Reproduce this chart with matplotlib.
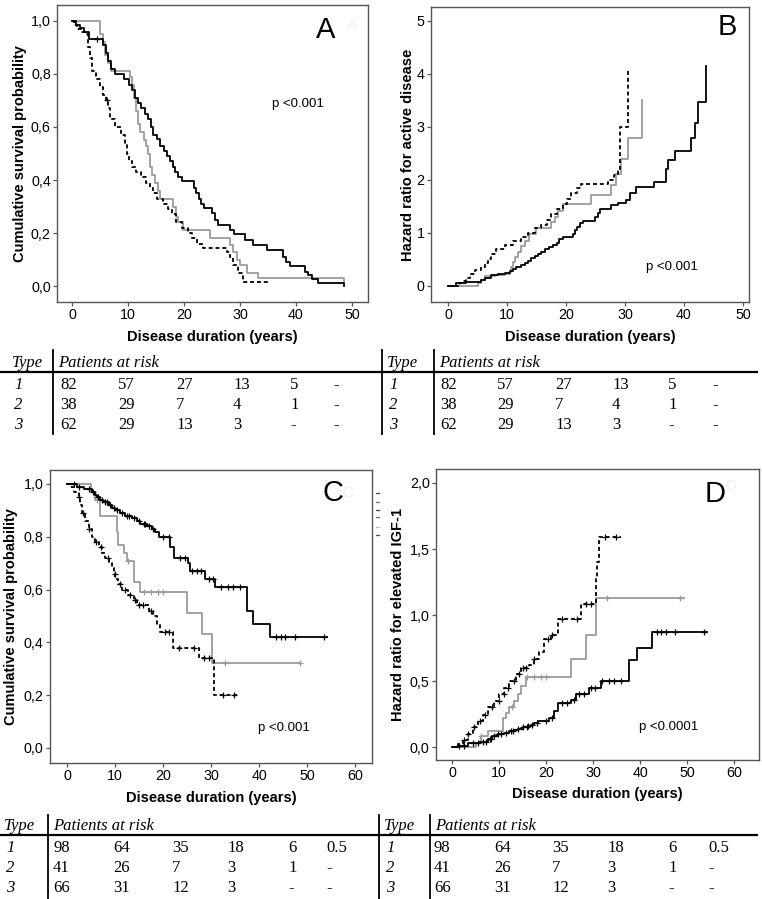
import matplotlib
matplotlib.use('Agg')
import matplotlib.pyplot as plt
import numpy as np
from matplotlib.lines import Line2D

# ---------------- data ----------------
years_A = [0, 10, 20, 30, 40, 50]
years_C = [0, 10, 20, 30, 40, 50, 60]
surv_ticks = [0.0, 0.2, 0.4, 0.6, 0.8, 1.0]
surv_labels = ['0,0', '0,2', '0,4', '0,6', '0,8', '1,0']
hazB_ticks = [0, 1, 2, 3, 4, 5]
hazB_labels = ['0', '1', '2', '3', '4', '5']
hazD_ticks = [0.0, 0.5, 1.0, 1.5, 2.0]
hazD_labels = ['0,0', '0,5', '1,0', '1,5', '2,0']

# Panel A: cumulative survival (time, probability)
A_type1 = [(0, 1.0), (0.8, 0.985), (1.5, 0.975), (2.2, 0.96), (3.0, 0.93), (5.6, 0.91), (6.0, 0.88),
           (6.4, 0.85), (6.9, 0.82), (7.7, 0.80), (9.3, 0.78), (10.2, 0.76), (10.7, 0.74), (11.2, 0.71),
           (11.7, 0.69), (12.3, 0.67), (13.0, 0.65), (13.6, 0.63), (14.1, 0.60), (14.5, 0.57),
           (15.2, 0.555), (15.8, 0.53), (16.4, 0.51), (17.0, 0.49), (17.5, 0.47), (18.0, 0.45),
           (18.4, 0.43), (19.0, 0.41), (19.6, 0.395), (21.7, 0.37), (22.1, 0.35), (22.6, 0.33),
           (23.1, 0.31), (23.5, 0.295), (25.0, 0.275), (25.6, 0.25), (26.1, 0.23), (28.2, 0.21),
           (29.0, 0.195), (30.9, 0.175), (32.4, 0.155), (34.8, 0.135), (37.7, 0.11), (38.3, 0.09),
           (38.9, 0.075), (41.6, 0.055), (42.2, 0.04), (42.8, 0.025), (44.0, 0.01), (48.5, 0.0)]
A_type2 = [(0, 1.0), (5.0, 0.95), (5.5, 0.92), (5.9, 0.87), (6.4, 0.84), (7.0, 0.81), (10.4, 0.79),
           (10.8, 0.76), (11.1, 0.71), (11.4, 0.66), (11.7, 0.61), (12.1, 0.58), (12.9, 0.55),
           (13.3, 0.53), (13.6, 0.50), (13.9, 0.45), (14.3, 0.42), (14.8, 0.39), (15.3, 0.36),
           (15.7, 0.33), (18.1, 0.30), (18.6, 0.26), (19.0, 0.24), (19.8, 0.21), (24.6, 0.18),
           (28.2, 0.155), (28.8, 0.13), (29.5, 0.10), (30.0, 0.08), (31.2, 0.05), (33.2, 0.03),
           (48.5, 0.01)]
A_type3 = [(0, 1.0), (0.4, 0.985), (0.9, 0.97), (1.6, 0.96), (2.5, 0.95), (2.9, 0.90), (3.2, 0.86),
           (3.5, 0.81), (4.3, 0.78), (5.0, 0.75), (5.6, 0.72), (6.1, 0.70), (6.5, 0.67), (6.8, 0.63),
           (7.6, 0.60), (8.8, 0.57), (9.4, 0.54), (9.8, 0.50), (10.1, 0.47), (10.7, 0.45), (11.5, 0.43),
           (12.4, 0.41), (13.2, 0.39), (13.9, 0.37), (14.5, 0.35), (15.1, 0.33), (16.3, 0.31),
           (17.1, 0.29), (17.8, 0.27), (18.6, 0.24), (19.6, 0.22), (20.7, 0.20), (21.4, 0.18),
           (22.3, 0.16), (23.4, 0.145), (27.6, 0.13), (28.2, 0.11), (28.8, 0.08), (29.7, 0.05),
           (30.5, 0.015), (35.1, 0.015)]
A_censor1 = [4.5]
A_censor3 = [6.3]

# Panel B: hazard ratio for active disease
B_type1 = [(0, 0), (1.4, 0.05), (3.1, 0.08), (5.6, 0.12), (6.2, 0.16), (7.3, 0.20), (8.5, 0.22),
           (9.6, 0.25), (10.5, 0.28), (11.0, 0.32), (11.6, 0.36), (12.4, 0.40), (13.0, 0.44),
           (13.6, 0.48), (14.1, 0.52), (14.7, 0.56), (15.3, 0.60), (15.8, 0.65), (16.4, 0.70),
           (17.2, 0.74), (17.8, 0.78), (18.4, 0.82), (18.9, 0.88), (19.5, 0.93), (21.2, 0.99),
           (21.5, 1.05), (21.8, 1.12), (22.3, 1.18), (22.9, 1.23), (25.0, 1.30), (25.4, 1.38),
           (25.7, 1.45), (27.7, 1.52), (28.8, 1.57), (30.2, 1.62), (30.8, 1.75), (31.9, 1.86),
           (35.0, 1.97), (37.0, 2.20), (37.3, 2.37), (38.4, 2.55), (41.2, 2.80), (41.8, 3.07),
           (42.4, 3.47), (43.8, 4.15)]
B_type2 = [(0, 0), (5.1, 0.05), (5.6, 0.12), (6.2, 0.18), (7.9, 0.20), (9.6, 0.22), (10.5, 0.27),
           (10.7, 0.35), (11.0, 0.45), (11.3, 0.55), (11.9, 0.65), (12.4, 0.75), (13.0, 0.85),
           (13.8, 0.98), (15.0, 1.10), (17.5, 1.20), (18.2, 1.30), (18.6, 1.42), (19.5, 1.55),
           (24.3, 1.72), (27.7, 1.90), (28.5, 2.12), (29.4, 2.40), (30.5, 2.80), (32.8, 3.50)]
B_type3 = [(0, 0), (2.0, 0.05), (2.5, 0.10), (3.1, 0.15), (3.7, 0.22), (4.5, 0.30), (5.6, 0.35),
           (6.2, 0.43), (6.8, 0.50), (7.3, 0.60), (8.2, 0.70), (9.6, 0.78), (11.0, 0.85), (12.4, 0.93),
           (13.6, 1.00), (14.7, 1.10), (15.8, 1.15), (16.7, 1.25), (17.5, 1.35), (18.4, 1.45),
           (19.5, 1.55), (20.1, 1.65), (20.9, 1.75), (21.8, 1.85), (22.6, 1.93), (27.1, 2.00),
           (28.2, 2.10), (28.8, 2.18), (29.1, 3.00), (30.5, 4.10)]

# Panel C: cumulative survival (elevated IGF-1)
C_type1 = [(0, 1.0), (2.1, 0.99), (3.5, 0.98), (5.2, 0.97), (5.9, 0.96), (6.2, 0.95), (6.9, 0.94),
           (7.6, 0.93), (8.7, 0.92), (9.4, 0.91), (10.1, 0.90), (11.1, 0.89), (12.1, 0.88), (13.5, 0.87),
           (14.6, 0.86), (15.3, 0.85), (16.6, 0.84), (17.7, 0.83), (18.4, 0.82), (19.1, 0.80),
           (21.5, 0.76), (22.2, 0.72), (25.3, 0.70), (25.7, 0.67), (28.8, 0.64), (30.9, 0.61),
           (37.4, 0.52), (38.8, 0.47), (42.3, 0.42), (54.1, 0.42)]
C_type2 = [(0, 1.0), (4.9, 0.97), (5.8, 0.94), (6.9, 0.88), (10.4, 0.82), (10.7, 0.77), (11.8, 0.74),
           (12.5, 0.71), (13.9, 0.63), (15.3, 0.59), (25.0, 0.51), (28.1, 0.43), (30.2, 0.32),
           (48.5, 0.32)]
C_type3 = [(0, 1.0), (0.7, 0.99), (1.4, 0.97), (2.4, 0.95), (2.8, 0.92), (3.1, 0.89), (3.8, 0.86),
           (4.5, 0.83), (5.2, 0.80), (5.9, 0.78), (6.6, 0.76), (7.3, 0.74), (8.0, 0.72), (8.7, 0.70),
           (9.4, 0.68), (9.7, 0.66), (10.1, 0.64), (10.7, 0.62), (11.4, 0.60), (12.8, 0.58),
           (13.9, 0.56), (14.6, 0.54), (17.0, 0.52), (18.0, 0.50), (18.7, 0.47), (19.4, 0.44),
           (22.0, 0.38), (27.6, 0.34), (30.7, 0.20), (35.4, 0.20)]
censor_type1 = [1.5, 2.5, 4.5, 5.5, 6.5, 7.2, 8.0, 8.3, 9.0, 9.8, 10.5, 11.5, 12.5, 13.0, 14.0, 15.0,
                16.0, 16.2, 17.0, 18.0, 20.0, 21.3, 23.5, 24.5, 26.0, 27.0, 28.0, 29.5, 30.5, 32.0,
                33.5, 34.5, 36.0, 43.5, 44.5, 45.5, 47.5, 53.5]
censor_type2 = [6.2, 12.8, 16.0, 17.5, 19.0, 20.0, 33.0, 48.5]
censor_type3 = [2.5, 3.3, 4.6, 6.0, 7.0, 8.5, 10.0, 11.0, 12.0, 13.2, 14.2, 15.0, 15.8, 17.5, 20.5,
                21.2, 23.3, 26.5, 28.5, 29.5, 32.5, 34.8]

# Panel D: hazard ratio for elevated IGF-1
D_type1 = [(0, 0), (1.2, 0.01), (3.3, 0.03), (5.8, 0.04), (7.6, 0.06), (8.6, 0.08), (9.7, 0.10),
           (11.1, 0.11), (12.2, 0.12), (13.2, 0.13), (14.0, 0.14), (15.0, 0.15), (16.1, 0.16),
           (16.8, 0.17), (17.5, 0.18), (18.2, 0.20), (20.7, 0.22), (21.7, 0.27), (22.5, 0.33),
           (25.3, 0.36), (26.3, 0.40), (29.2, 0.45), (31.7, 0.50), (37.7, 0.66), (39.4, 0.75),
           (42.6, 0.87), (54.3, 0.87)]
D_type2 = [(0, 0), (5.1, 0.03), (6.2, 0.08), (7.6, 0.12), (10.8, 0.22), (11.5, 0.26), (12.2, 0.30),
           (13.2, 0.35), (14.0, 0.40), (14.7, 0.46), (15.7, 0.53), (25.3, 0.67), (28.5, 0.85),
           (30.6, 1.13), (49.4, 1.13)]
D_type3 = [(0, 0), (1.2, 0.02), (2.3, 0.05), (3.3, 0.10), (4.4, 0.15), (5.5, 0.20), (6.5, 0.24),
           (7.6, 0.30), (9.0, 0.35), (10.1, 0.40), (11.1, 0.45), (12.2, 0.50), (13.6, 0.55),
           (14.7, 0.60), (16.4, 0.62), (17.5, 0.67), (18.6, 0.72), (19.6, 0.82), (21.0, 0.85),
           (22.5, 0.97), (27.4, 1.08), (30.6, 1.28), (30.9, 1.40), (31.3, 1.59), (35.9, 1.59)]

# Patients at risk tables
risk_types = ['1', '2', '3']
risk_top = [['82', '57', '27', '13', '5', '-'],
            ['38', '29', '7', '4', '1', '-'],
            ['62', '29', '13', '3', '-', '-']]
risk_bottom = [['98', '64', '35', '18', '6', '0.5'],
               ['41', '26', '7', '3', '1', '-'],
               ['66', '31', '12', '3', '-', '-']]

# ---------------- figure ----------------
W, H = 762, 899
fig = plt.figure(figsize=(W / 100, H / 100), dpi=100)
SANS = ['Liberation Sans', 'DejaVu Sans']
SERIF = ['Liberation Serif', 'DejaVu Serif']
GRAY = '#9b9b9b'
SPINE = '#555555'


def px_axes(l, t, r, b):
    return fig.add_axes([l / W, 1 - b / H, (r - l) / W, (b - t) / H])


def ftext(x, y, s, **kw):
    fig.text(x / W, 1 - y / H, s, **kw)


def fline(x0, y0, x1, y1, lw=1.0, color='black'):
    fig.add_artist(Line2D([x0 / W, x1 / W], [1 - y0 / H, 1 - y1 / H], color=color, lw=lw,
                          transform=fig.transFigure))


def step_value(series, t):
    ts = [p[0] for p in series]
    vs = [p[1] for p in series]
    i = np.searchsorted(ts, t, side='right') - 1
    return vs[max(i, 0)]


def draw_series(ax, series, style, censor=None):
    t = [p[0] for p in series]
    v = [p[1] for p in series]
    if style == 'black':
        kw = dict(color='black', lw=1.3)
    elif style == 'gray':
        kw = dict(color=GRAY, lw=1.3)
    else:
        kw = dict(color='black', lw=1.3, linestyle=(0, (2.2, 1.6)))
    ax.step(t, v, where='post', **kw)
    if censor:
        cy = [step_value(series, c) for c in censor]
        ax.plot(censor, cy, linestyle='none', marker='+', markersize=5, mew=0.9,
                color=kw['color'])


def style_axes(ax, xlim, ylim, xticks, yticks, ylabels, ylabel, ylab_x, letter, letter_xy):
    ax.set_xlim(*xlim)
    ax.set_ylim(*ylim)
    ax.set_xticks(xticks)
    ax.set_xticklabels([str(x) for x in xticks])
    ax.set_yticks(yticks)
    ax.set_yticklabels(ylabels)
    for s in ax.spines.values():
        s.set_color(SPINE)
        s.set_linewidth(1.0)
    ax.tick_params(direction='out', length=3, width=0.9, color=SPINE, labelsize=10.3, pad=1.5)
    for lab in ax.get_xticklabels() + ax.get_yticklabels():
        lab.set_family(SANS)
    ax.set_ylabel(ylabel, fontsize=10.5, fontweight='bold', family=SANS)
    ax.yaxis.set_label_coords(ylab_x, 0.5)
    ax.yaxis.label.set_va('center')
    ax.set_xlabel('Disease duration (years)', fontsize=10.5, fontweight='bold', family=SANS)
    ax.xaxis.set_label_coords(0.5, -0.118)
    ax.xaxis.label.set_va('center')
    ax.text(letter_xy[0], letter_xy[1], letter, transform=ax.transAxes, fontsize=21,
            family=SANS, ha='center', va='center')


# Panel A
axA = px_axes(57, 5, 368, 302)
draw_series(axA, A_type2, 'gray')
draw_series(axA, A_type3, 'dashed', A_censor3)
draw_series(axA, A_type1, 'black', A_censor1)
style_axes(axA, (-2.68, 52.86), (-0.06, 1.06), years_A, surv_ticks, surv_labels,
           'Cumulative survival probability', -0.119, 'A', (0.865, 0.916))
axA.text(35.7, 0.687, 'p <0.001', fontsize=9.5, family=SANS, va='center')
axA.text(0.95, 0.93, 'A', transform=axA.transAxes, fontsize=11, color='#f0f0f0',
         family=SANS, ha='center', va='center')

# Panel B
axB = px_axes(431, 7, 749, 302)
draw_series(axB, B_type2, 'gray')
draw_series(axB, B_type3, 'dashed')
draw_series(axB, B_type1, 'black')
style_axes(axB, (-2.88, 51.02), (-0.302, 5.264), years_A, hazB_ticks, hazB_labels,
           'Hazard ratio for active disease', -0.072, 'B', (0.931, 0.932))
axB.text(33.6, 0.35, 'p <0.001', fontsize=9.5, family=SANS, va='center')

# Panel C
axC = px_axes(50, 470, 372, 763)
draw_series(axC, C_type2, 'gray', censor_type2)
draw_series(axC, C_type3, 'dashed', censor_type3)
draw_series(axC, C_type1, 'black', censor_type1)
style_axes(axC, (-3.54, 63.54), (-0.057, 1.053), years_C, surv_ticks, surv_labels,
           'Cumulative survival probability', -0.121, 'C', (0.879, 0.921))
axC.text(39.8, 0.076, 'p <0.001', fontsize=9.5, family=SANS, va='center')
axC.text(0.925, 0.92, 'C', transform=axC.transAxes, fontsize=11, color='#f0f0f0',
         family=SANS, ha='center', va='center')

# Panel D
axD = px_axes(436, 469, 759, 760)
draw_series(axD, D_type2, 'gray', censor_type2)
draw_series(axD, D_type3, 'dashed', censor_type3)
draw_series(axD, D_type1, 'black', censor_type1)
style_axes(axD, (-3.40, 65.3), (-0.098, 2.106), years_C, hazD_ticks, hazD_labels,
           'Hazard ratio for elevated IGF-1', -0.118, 'D', (0.864, 0.914))
axD.text(39.8, 0.15, 'p <0.0001', fontsize=9.5, family=SANS, va='center')
axD.text(0.915, 0.94, 'D', transform=axD.transAxes, fontsize=11, color='#f0f0f0',
         family=SANS, ha='center', va='center')

# small legend remnants right of panel C
for yy, cc in zip([493, 502, 510, 517, 527, 535],
                  ['#444444', '#777777', '#444444', '#666666', '#bbbbbb', '#555555']):
    fline(376, yy, 379, yy, lw=0.9, color=cc)


# ---------------- tables ----------------
def draw_table(rows, y_head, y_rows, x_type, x_vline, x_vals, x_border=None, top=None,
               bottom=None):
    fs = 12
    ftext(x_type, y_head, 'Type', fontsize=fs, family=SERIF, style='italic', va='center')
    ftext(x_vline + 5, y_head, 'Patients at risk', fontsize=fs, family=SERIF, style='italic',
          va='center')
    fline(x_vline, top, x_vline, bottom, lw=1.3)
    if x_border is not None:
        fline(x_border, top, x_border, bottom, lw=1.3)
    for r, lab in enumerate(risk_types):
        ftext(x_type + 2, y_rows[r], lab, fontsize=fs, family=SERIF, style='italic', va='center')
        for c, val in enumerate(rows[r]):
            ftext(x_vals[c], y_rows[r], val, fontsize=fs, family=SERIF, va='center')


# top tables
fline(0, 372, 757, 372, lw=1.6)
draw_table(risk_top, 363, [385, 405, 425], 12, 53, [60, 118, 176, 233, 290, 333],
           top=350, bottom=434)
draw_table(risk_top, 363, [385, 405, 425], 387, 434, [440, 497, 555, 612, 668, 712],
           x_border=382, top=350, bottom=434)

# bottom tables
fline(0, 835, 757, 835, lw=1.6)
draw_table(risk_bottom, 826, [848, 868, 888], 4, 48, [53, 113, 172, 227, 288, 326],
           top=815, bottom=899)
draw_table(risk_bottom, 826, [848, 868, 888], 384, 430, [434, 494, 552, 607, 668, 708],
           x_border=379, top=815, bottom=899)

fig.savefig('out.png', dpi=100)
